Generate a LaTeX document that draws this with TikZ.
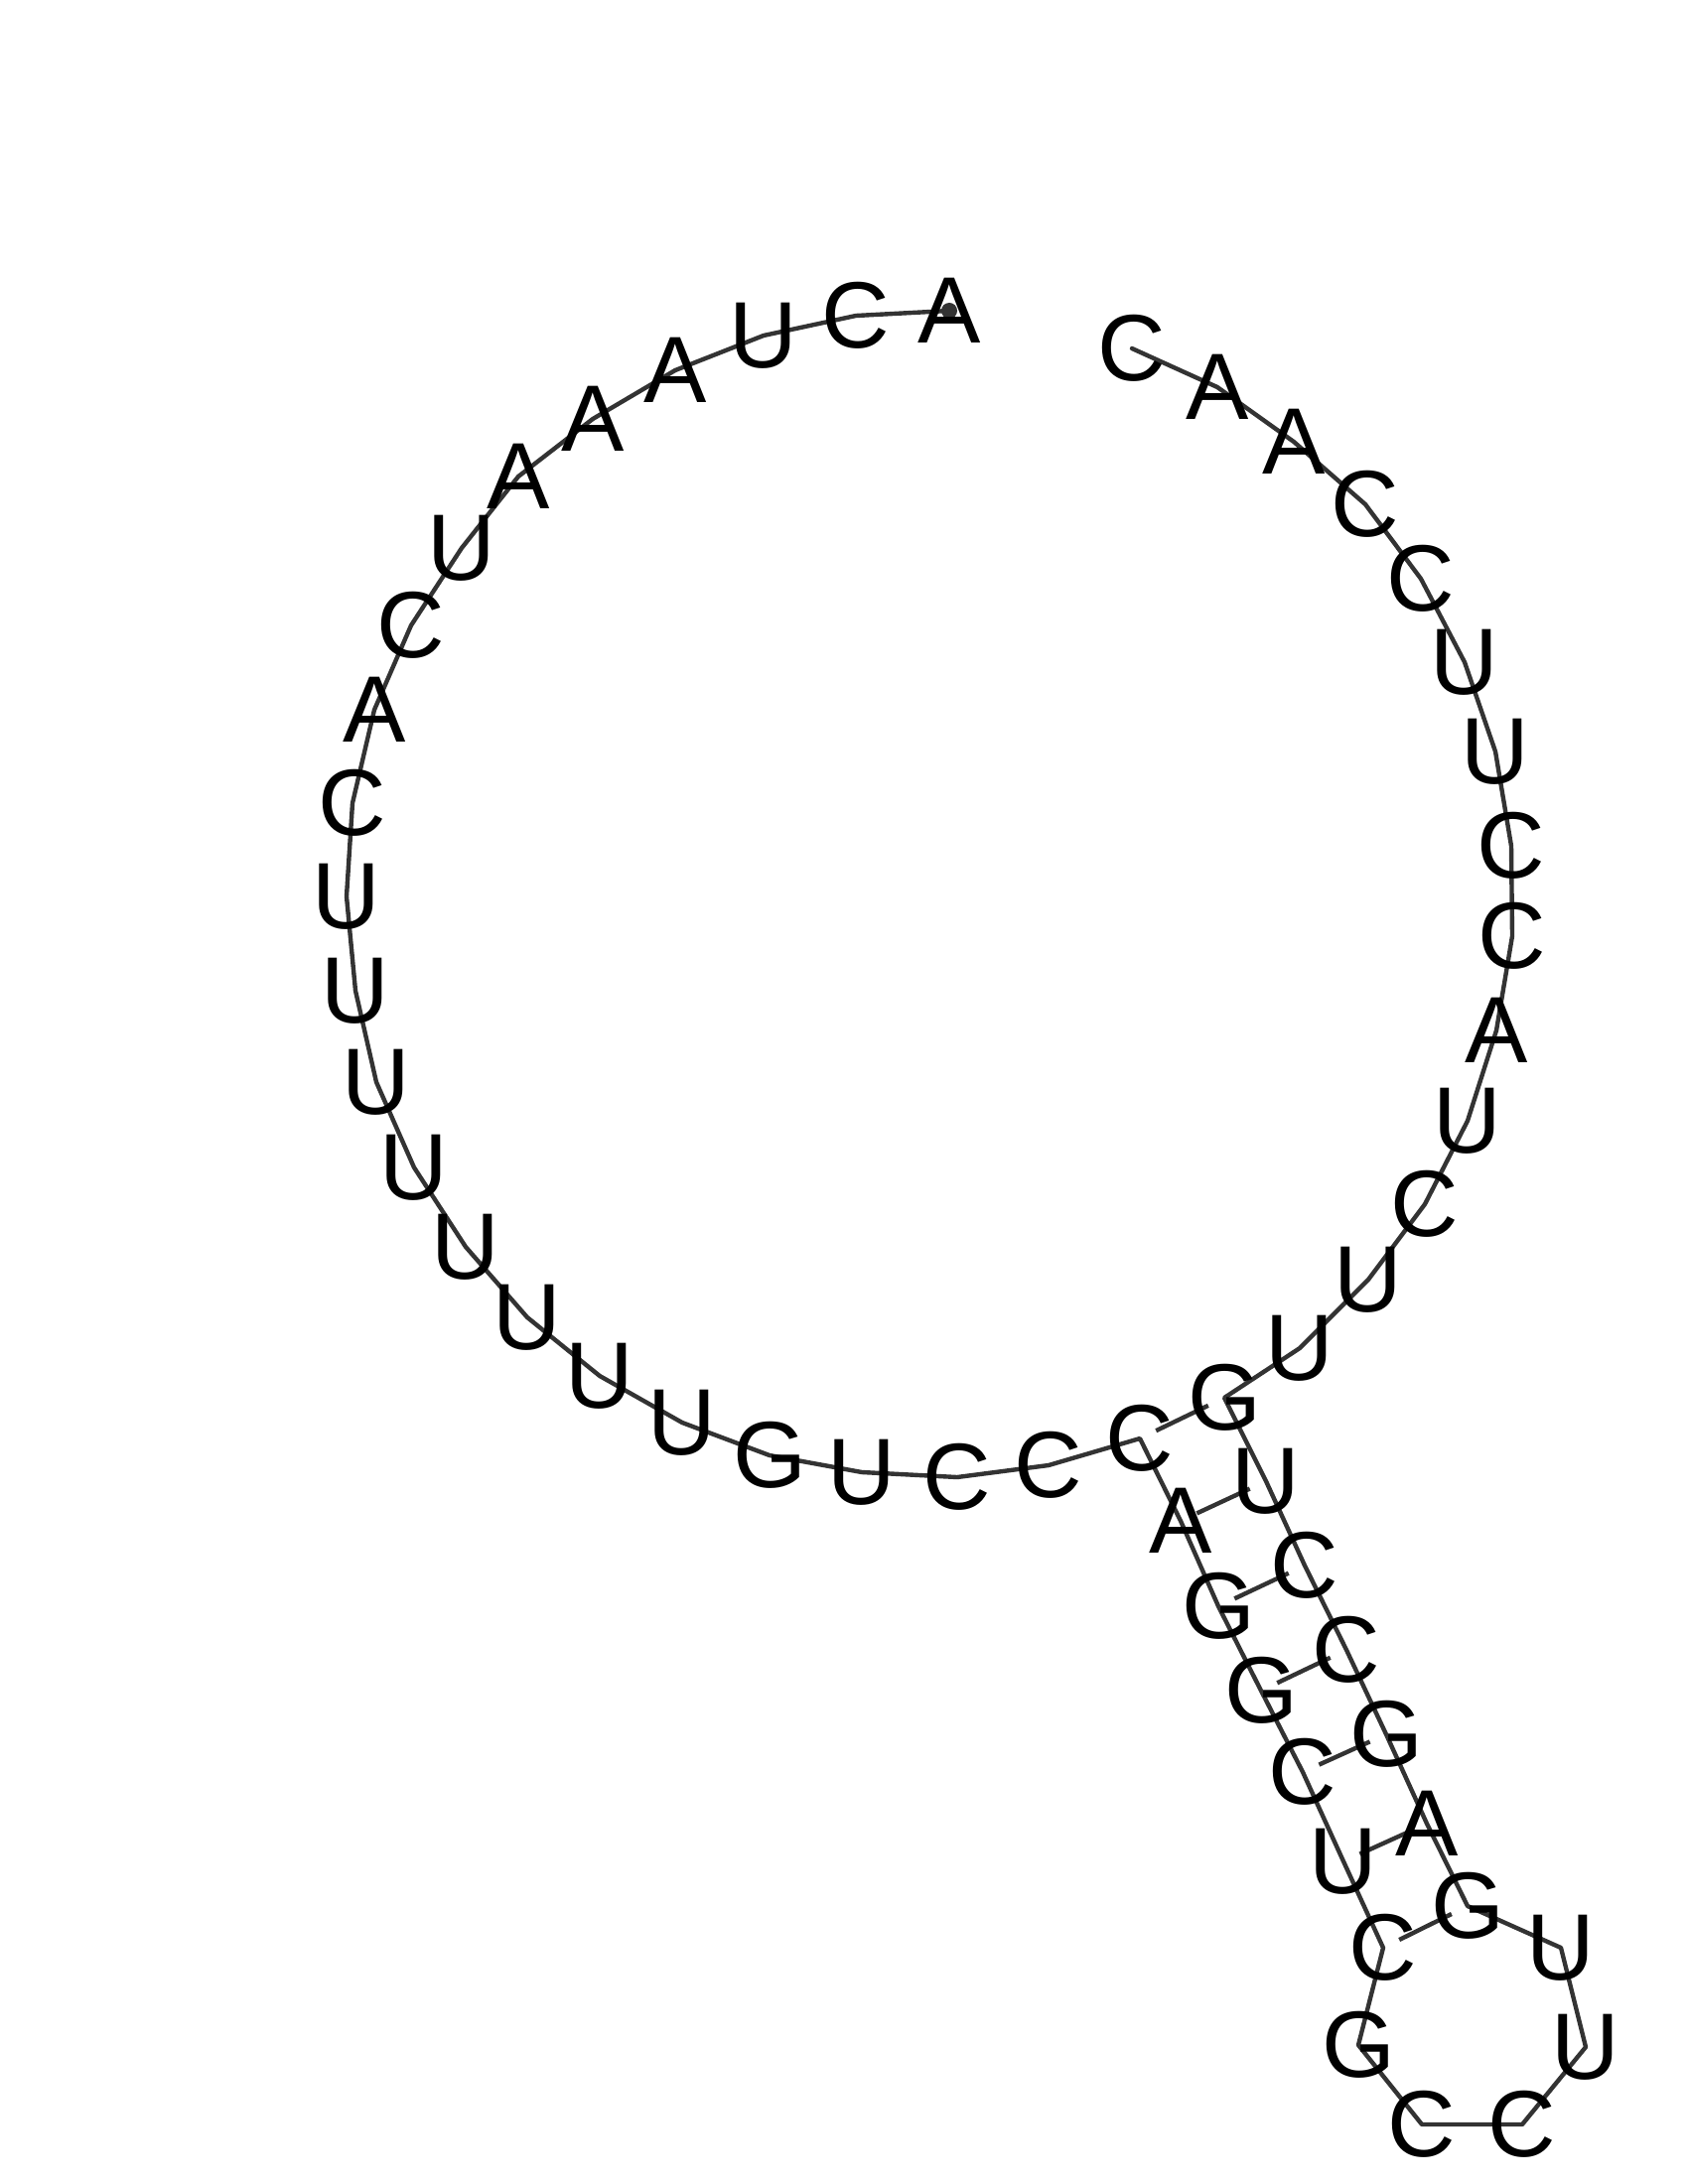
\documentclass[tikz,border=0pt]{standalone}
\usepackage{fontspec}
\setmainfont{Liberation Sans}
\usepackage{tikz}
\usetikzlibrary{positioning, calc}

\begin{document}
\begin{tikzpicture}[
    x=0.01cm, y=-0.01cm,
    base/.style={
        inner sep=0pt,
        font=\fontsize{27}{27}\selectfont
    },
    backbone/.style={
        draw=black!80,
        line width=1.25pt,
        line join=round,
        line cap=round
    },
    pair/.style={
        draw=black!80,
        line width=1.25pt,
        shorten <=0.18cm,
        shorten >=0.18cm
    }
]
  \useasboundingbox (0,0) rectangle (1700,2200);

  % backbone first, letters on top
  \foreach \i/\b/\x/\y in {
      1/A/956/313, 2/C/862/318, 3/U/769/338, 4/A/680/373, 5/A/597/422,
      6/A/522/480, 7/U/465/552, 8/C/414/630, 9/A/377/715, 10/C/355/809,
      11/U/349/903, 12/U/358/998, 13/U/379/1090, 14/U/417/1176, 15/U/469/1256,
      16/U/531/1327, 17/U/604/1386, 18/U/687/1433, 19/G/775/1466, 20/U/868/1483,
      21/C/964/1488, 22/C/1056/1476, 23/C/1148/1449, 24/A/1189/1532, 25/G/1227/1618,
      26/G/1270/1703, 27/C/1312/1785, 28/U/1353/1875, 29/C/1393/1962, 30/G/1368/2060,
      31/C/1432/2140, 32/C/1533/2140, 33/U/1597/2062, 34/U/1572/1962, 35/G/1478/1920,
      36/A/1437/1837, 37/G/1396/1747, 38/C/1356/1662, 39/C/1314/1577, 40/U/1275/1492,
      41/G/1233/1408, 42/U/1309/1358, 43/U/1378/1289, 44/C/1435/1213, 45/U/1478/1129,
      46/A/1507/1038, 47/C/1523/943, 48/C/1522/852, 49/U/1506/757, 50/U/1475/667,
      51/C/1431/583, 52/C/1375/508, 53/A/1303/445, 54/A/1226/390, 55/C/1140/351}
    \coordinate (n\i) at (\x,\y);

  \draw[backbone] (n1) \foreach \i in {2,...,55} { -- (n\i) };
  \fill[black!80] (n1) circle (0.08cm);

  % base pairs of the stem
  \foreach \a/\b in {23/41, 24/40, 25/39, 26/38, 27/37, 28/36, 29/35}
    \draw[pair] (n\a) -- (n\b);

  \foreach \i/\b in {
      1/A, 2/C, 3/U, 4/A, 5/A, 6/A, 7/U, 8/C, 9/A, 10/C,
      11/U, 12/U, 13/U, 14/U, 15/U, 16/U, 17/U, 18/U, 19/G, 20/U,
      21/C, 22/C, 23/C, 24/A, 25/G, 26/G, 27/C, 28/U, 29/C, 30/G,
      31/C, 32/C, 33/U, 34/U, 35/G, 36/A, 37/G, 38/C, 39/C, 40/U,
      41/G, 42/U, 43/U, 44/C, 45/U, 46/A, 47/C, 48/C, 49/U, 50/U,
      51/C, 52/C, 53/A, 54/A, 55/C}
    \node[base] (b\i) at (n\i) {\b};
\end{tikzpicture}
\end{document}
